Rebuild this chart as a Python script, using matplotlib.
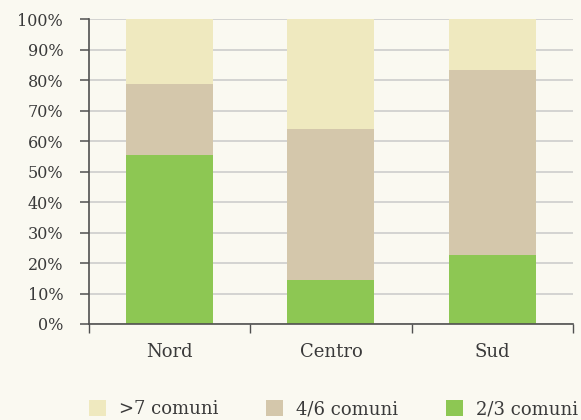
import matplotlib
matplotlib.use('Agg')
import matplotlib.pyplot as plt
import numpy as np

# data (percent of total)
regioni = ['Nord', 'Centro', 'Sud']
comuni_2_3 = [55.6, 14.4, 22.7]
comuni_4_6 = [23.3, 49.6, 60.6]
comuni_7_plus = [21.1, 36.0, 16.7]
y_ticks = [0, 10, 20, 30, 40, 50, 60, 70, 80, 90, 100]

bg = '#FAF9F1'
col_green = '#8DC753'
col_tan = '#D4C7AB'
col_yellow = '#EFE9BF'
col_axis = '#505050'
col_text = '#3a3a3a'

plt.rcParams['font.family'] = ['DejaVu Serif']

fig = plt.figure(figsize=(5.81, 4.20), dpi=100, facecolor=bg)
ax = fig.add_axes([0.153, 0.2286, 0.833, 0.725])
ax.set_facecolor(bg)

x = np.arange(len(regioni))
w = 0.54
b1 = np.array(comuni_2_3)
b2 = b1 + np.array(comuni_4_6)

ax.bar(x, comuni_2_3, width=w, color=col_green, label='2/3 comuni', zorder=2)
ax.bar(x, comuni_4_6, width=w, bottom=b1, color=col_tan, label='4/6 comuni', zorder=2)
ax.bar(x, comuni_7_plus, width=w, bottom=b2, color=col_yellow, label='>7 comuni', zorder=2)

ax.set_xlim(-0.5, 2.5)
ax.set_ylim(0, 100)
ax.set_yticks(y_ticks)
ax.set_yticklabels([f'{v}%' for v in y_ticks], fontsize=11.5, color=col_text)
ax.yaxis.grid(True, color='#C9C9C9', linewidth=1.1, zorder=0)
ax.set_axisbelow(True)

# category boundaries carry the tick marks, names sit in between
ax.set_xticks([-0.5, 0.5, 1.5, 2.5])
ax.set_xticklabels([])
ax.set_xticks(x, minor=True)
ax.set_xticklabels(regioni, minor=True, fontsize=13, color=col_text)
ax.tick_params(axis='x', which='major', length=6.5, width=1, color=col_axis, direction='out')
ax.tick_params(axis='x', which='minor', length=0, pad=14)
ax.tick_params(axis='y', length=6.5, width=1.1, color=col_axis, pad=12)

for side in ['top', 'right']:
    ax.spines[side].set_visible(False)
for side in ['left', 'bottom']:
    ax.spines[side].set_color(col_axis)
    ax.spines[side].set_linewidth(1.2)

handles, labels = ax.get_legend_handles_labels()
fig.legend(handles[::-1], labels[::-1], loc='lower center', ncol=3,
           bbox_to_anchor=(0.574, -0.035), frameon=False, fontsize=13,
           handlelength=0.95, handleheight=0.95, columnspacing=2.6,
           handletextpad=0.75, labelcolor=col_text)

plt.savefig('out.png', dpi=100, facecolor=bg)
